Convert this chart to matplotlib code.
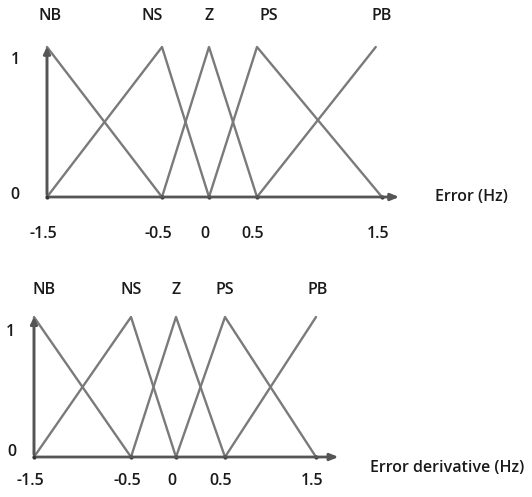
import matplotlib.pyplot as plt
import numpy as np

plt.rcParams['font.family'] = ['Open Sans', 'DejaVu Sans']
plt.rcParams['font.weight'] = 'semibold'

terms = ["NB", "NS", "Z", "PS", "PB"]
tick_values = [-1.5, -0.5, 0, 0.5, 1.5]
tick_labels = ["-1.5", "-0.5", "0", "0.5", "1.5"]

# membership functions (x points, mu points) for each term
top_mf = {
    "NB": ([-1.5, -1.5, -0.5], [0, 1, 0]),
    "NS": ([-1.5, -0.5, 0], [0, 1, 0]),
    "Z": ([-0.5, 0, 0.5], [0, 1, 0]),
    "PS": ([0, 0.5, 1.5], [0, 1, 0]),
    "PB": ([0.5, 1.45], [0, 1]),
}
bottom_mf = {
    "NB": ([-1.5, -1.5, -0.5], [0, 1, 0]),
    "NS": ([-1.5, -0.5, 0], [0, 1, 0]),
    "Z": ([-0.5, 0, 0.5], [0, 1, 0]),
    "PS": ([0, 0.5, 1.5], [0, 1, 0]),
    "PB": ([0.5, 1.5], [0, 1]),
}
peaks = [-1.5, -0.5, 0, 0.5, 1.5]

W, H = 532, 497
fig = plt.figure(figsize=(W / 100, H / 100), dpi=100)
fig.patch.set_facecolor("white")

line_col = "#7a7a7a"
axis_col = "#555555"
txt_col = "#1a1a1a"
fs = 11.5


def make_panel(rect, knots_px, mf, xlabel, label_off, tick_y, term_y, one_pos, zero_pos, arrow_end, xlabel_pos):
    ax = fig.add_axes([rect[0] / W, 1 - rect[3] / H, (rect[2] - rect[0]) / W, (rect[3] - rect[1]) / H])
    kx = np.array(tick_values, dtype=float)
    kp = np.array(knots_px, dtype=float)
    fwd = lambda v: np.interp(v, kx, kp)
    inv = lambda p: np.interp(p, kp, kx)
    ax.set_xscale("function", functions=(fwd, inv))
    ax.set_xlim(-1.5, 1.5)
    ax.set_ylim(0, 1)
    ax.axis("off")

    for t in terms:
        xs, ys = mf[t]
        ax.plot(xs, ys, color=line_col, lw=1.7, clip_on=False, solid_capstyle="round")

    # axes with arrows
    ax.annotate("", xy=(arrow_end, 0), xytext=(0, 0), xycoords=("axes fraction", "data"),
                textcoords=("axes fraction", "data"),
                arrowprops=dict(arrowstyle="-|>,head_length=0.5,head_width=0.2", color=axis_col, lw=2))
    ax.annotate("", xy=(0, 1.02), xytext=(0, 0), xycoords=("axes fraction", "data"),
                textcoords=("axes fraction", "data"),
                arrowprops=dict(arrowstyle="-|>,head_length=0.4,head_width=0.2", color=axis_col, lw=2))
    ax.plot(tick_values, [0] * len(tick_values), "o", ms=2, color="#333333", clip_on=False)

    for t, p, off in zip(terms, peaks, label_off):
        ax.annotate(t, xy=(p, 1), xytext=(off, term_y), textcoords="offset pixels",
                    ha="center", va="center", fontsize=fs, color=txt_col)
    for v, lab in zip(tick_values, tick_labels):
        ax.annotate(lab, xy=(v, 0), xytext=(-4, tick_y), textcoords="offset pixels",
                    ha="center", va="center", fontsize=fs, color=txt_col)
    fig.text(one_pos[0] / W, 1 - one_pos[1] / H, "1", ha="center", va="center", fontsize=fs, color=txt_col)
    fig.text(zero_pos[0] / W, 1 - zero_pos[1] / H, "0", ha="center", va="center", fontsize=fs, color=txt_col)
    fig.text(xlabel_pos[0] / W, 1 - xlabel_pos[1] / H, xlabel, ha="left", va="center", fontsize=fs, color=txt_col)
    return ax


make_panel((47, 47, 382, 197), [0, 115, 162, 210, 335], top_mf, "Error (Hz)",
           [3, -10, 0, 12, 0], -37, 31, (15, 60), (15, 195), 1.06, (435, 197))
make_panel((34, 317, 316, 457), [0, 97, 142, 191, 282], bottom_mf, "Error derivative (Hz)",
           [10, 0, 0, 0, 2], -24, 27, (10, 332), (12, 452), 1.09, (370, 468))

fig.savefig("out.png", dpi=100, facecolor="white")
